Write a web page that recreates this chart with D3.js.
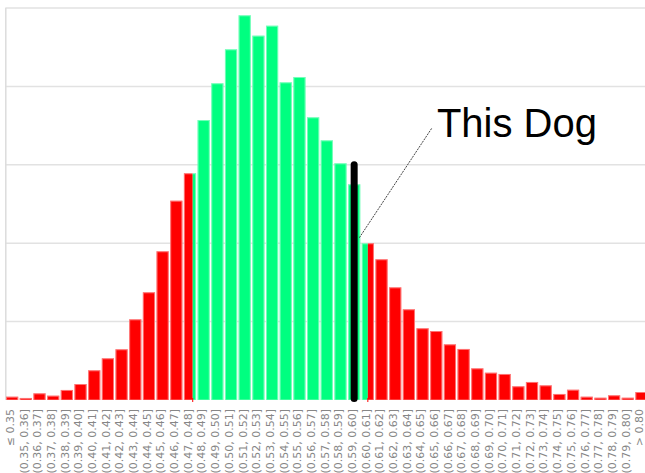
<!DOCTYPE html>
<html lang="en">
<head>
    <meta charset="UTF-8">
    <title>This Dog</title>
    <script src="https://d3js.org/d3.v7.min.js"></script>
    <style>
        body {
            margin: 0;
            background: #fff;
        }
        svg {
            display: block;
        }
        .tick-label {
            font-family: "DejaVu Sans", sans-serif;
            font-size: 11px;
            fill: #868686;
        }
        .note {
            font-family: "Liberation Sans", Arial, sans-serif;
            font-size: 40px;
            fill: #000;
        }
    </style>
</head>
<body>
<div id="chart"></div>
<script>
    const width = 645;
    const height = 473;

    // bins (tick labels)
    const categories = [
        "≤ 0.35", "(0.35, 0.36]", "(0.36, 0.37]", "(0.37, 0.38]", "(0.38, 0.39]", "(0.39, 0.40]",
        "(0.40, 0.41]", "(0.41, 0.42]", "(0.42, 0.43]", "(0.43, 0.44]", "(0.44, 0.45]", "(0.45, 0.46]",
        "(0.46, 0.47]", "(0.47, 0.48]", "(0.48, 0.49]", "(0.49, 0.50]", "(0.50, 0.51]", "(0.51, 0.52]",
        "(0.52, 0.53]", "(0.53, 0.54]", "(0.54, 0.55]", "(0.55, 0.56]", "(0.56, 0.57]", "(0.57, 0.58]",
        "(0.58, 0.59]", "(0.59, 0.60]", "(0.60, 0.61]", "(0.61, 0.62]", "(0.62, 0.63]", "(0.63, 0.64]",
        "(0.64, 0.65]", "(0.65, 0.66]", "(0.66, 0.67]", "(0.67, 0.68]", "(0.68, 0.69]", "(0.69, 0.70]",
        "(0.70, 0.71]", "(0.71, 0.72]", "(0.72, 0.73]", "(0.73, 0.74]", "(0.74, 0.75]", "(0.75, 0.76]",
        "(0.76, 0.77]", "(0.77, 0.78]", "(0.78, 0.79]", "(0.79, 0.80]", "> 0.80"
    ];

    // bar heights, in gridline units
    const frequencies = [
        0.042, 0.026, 0.085, 0.055, 0.128, 0.204, 0.379, 0.532, 0.647, 1.029,
        1.374, 1.897, 2.542, 2.892, 3.571, 4.040, 4.473, 4.907, 4.647, 4.774,
        4.052, 4.120, 3.606, 3.312, 3.019, 2.751, 1.999, 1.795, 1.437, 1.157,
        0.915, 0.880, 0.710, 0.651, 0.404, 0.348, 0.332, 0.175, 0.230, 0.187,
        0.077, 0.131, 0.042, 0.029, 0.060, 0.029, 0.102
    ];

    // value range covered by the bins
    const valueDomain = [0.34, 0.81];
    const yTicks = [1, 2, 3, 4, 5];

    // delimiters: green between the two cuts, red outside
    const lowCut = 0.477;
    const highCut = 0.605;

    // marker for this dog
    const dogValue = 0.595;
    const dogHeight = 3.0;
    const noteLabel = "This Dog";
    const noteText = [0.6555, 3.355];
    const noteLineFrom = [0.5988, 2.07];
    const noteLineTo = [0.6517, 3.466];

    const red = "#ff0000";
    const green = "#00ff80";

    const plotLeft = 5.3, plotRight = 648.3, plotTop = 8, plotBottom = 400;

    const svg = d3.select("#chart").append("svg")
        .attr("width", width)
        .attr("height", height);

    const x = d3.scaleBand()
        .domain(categories)
        .range([plotLeft, plotRight])
        .padding(0);

    const xv = d3.scaleLinear()
        .domain(valueDomain)
        .range([plotLeft, plotRight]);

    const y = d3.scaleLinear()
        .domain([0, 5])
        .range([plotBottom, plotTop]);

    // gridlines
    svg.append("g")
        .selectAll("line")
        .data(yTicks)
        .join("line")
        .attr("x1", plotLeft)
        .attr("x2", width)
        .attr("y1", d => y(d))
        .attr("y2", d => y(d))
        .attr("stroke", "#e2e2e2")
        .attr("stroke-width", 1.5);

    // left frame line
    svg.append("line")
        .attr("x1", plotLeft + 0.5).attr("x2", plotLeft + 0.5)
        .attr("y1", y(5)).attr("y2", y(0))
        .attr("stroke", "#dcdcdc")
        .attr("stroke-width", 1.5);

    // split each bin into coloured pieces
    const pieces = [];
    categories.forEach((c, i) => {
        const lo = valueDomain[0] + i * 0.01;
        const hi = lo + 0.01;
        const edges = [lo, hi, lowCut, highCut].filter(v => v >= lo && v <= hi).sort((a, b) => a - b);
        const uniq = [...new Set(edges)];
        for (let j = 0; j < uniq.length - 1; j++) {
            const mid = (uniq[j] + uniq[j + 1]) / 2;
            pieces.push({
                i, c,
                a: uniq[j], b: uniq[j + 1],
                first: j === 0, last: j === uniq.length - 2,
                color: (mid > lowCut && mid < highCut) ? green : red
            });
        }
    });

    const inset = 0.75;
    const bars = svg.append("g");

    bars.selectAll("rect.piece")
        .data(pieces)
        .join("rect")
        .attr("class", "piece")
        .attr("x", d => xv(d.a) + (d.first ? inset : 0))
        .attr("width", d => xv(d.b) - xv(d.a) - (d.first ? inset : 0) - (d.last ? inset : 0))
        .attr("y", d => y(frequencies[d.i]))
        .attr("height", d => y(0) - y(frequencies[d.i]))
        .attr("fill", d => d.color);

    // light edge on every bar
    bars.selectAll("rect.edge")
        .data(categories)
        .join("rect")
        .attr("class", "edge")
        .attr("x", d => x(d) + inset + 0.5)
        .attr("width", x.bandwidth() - 2 * inset - 1)
        .attr("y", (d, i) => y(frequencies[i]) + 0.5)
        .attr("height", (d, i) => y(0) - y(frequencies[i]) - 0.5)
        .attr("fill", "none")
        .attr("stroke", "#fff")
        .attr("stroke-opacity", 0.45)
        .attr("stroke-width", 1);

    // small delimiter ticks under the axis
    svg.selectAll("line.cut")
        .data([lowCut, highCut])
        .join("line")
        .attr("class", "cut")
        .attr("x1", d => xv(d)).attr("x2", d => xv(d))
        .attr("y1", y(0) - 2).attr("y2", y(0) + 2)
        .attr("stroke", red)
        .attr("stroke-width", 1);

    // bin labels
    svg.append("g")
        .selectAll("text")
        .data(categories)
        .join("text")
        .attr("class", "tick-label")
        .attr("transform", d => `translate(${x(d) + x.bandwidth() / 2 + 1.8},${plotBottom + 9}) rotate(-90)`)
        .attr("text-anchor", "end")
        .text(d => d);

    // this dog marker
    svg.append("line")
        .attr("x1", xv(dogValue)).attr("x2", xv(dogValue))
        .attr("y1", y(0) - 1.5).attr("y2", y(dogHeight))
        .attr("stroke", "#000")
        .attr("stroke-width", 7)
        .attr("stroke-linecap", "round");

    svg.append("line")
        .attr("x1", xv(noteLineFrom[0])).attr("y1", y(noteLineFrom[1]))
        .attr("x2", xv(noteLineTo[0])).attr("y2", y(noteLineTo[1]))
        .attr("stroke", "#444")
        .attr("stroke-width", 1)
        .attr("stroke-dasharray", "2,1");

    svg.append("text")
        .attr("class", "note")
        .attr("x", xv(noteText[0]))
        .attr("y", y(noteText[1]))
        .text(noteLabel);
</script>
</body>
</html>
